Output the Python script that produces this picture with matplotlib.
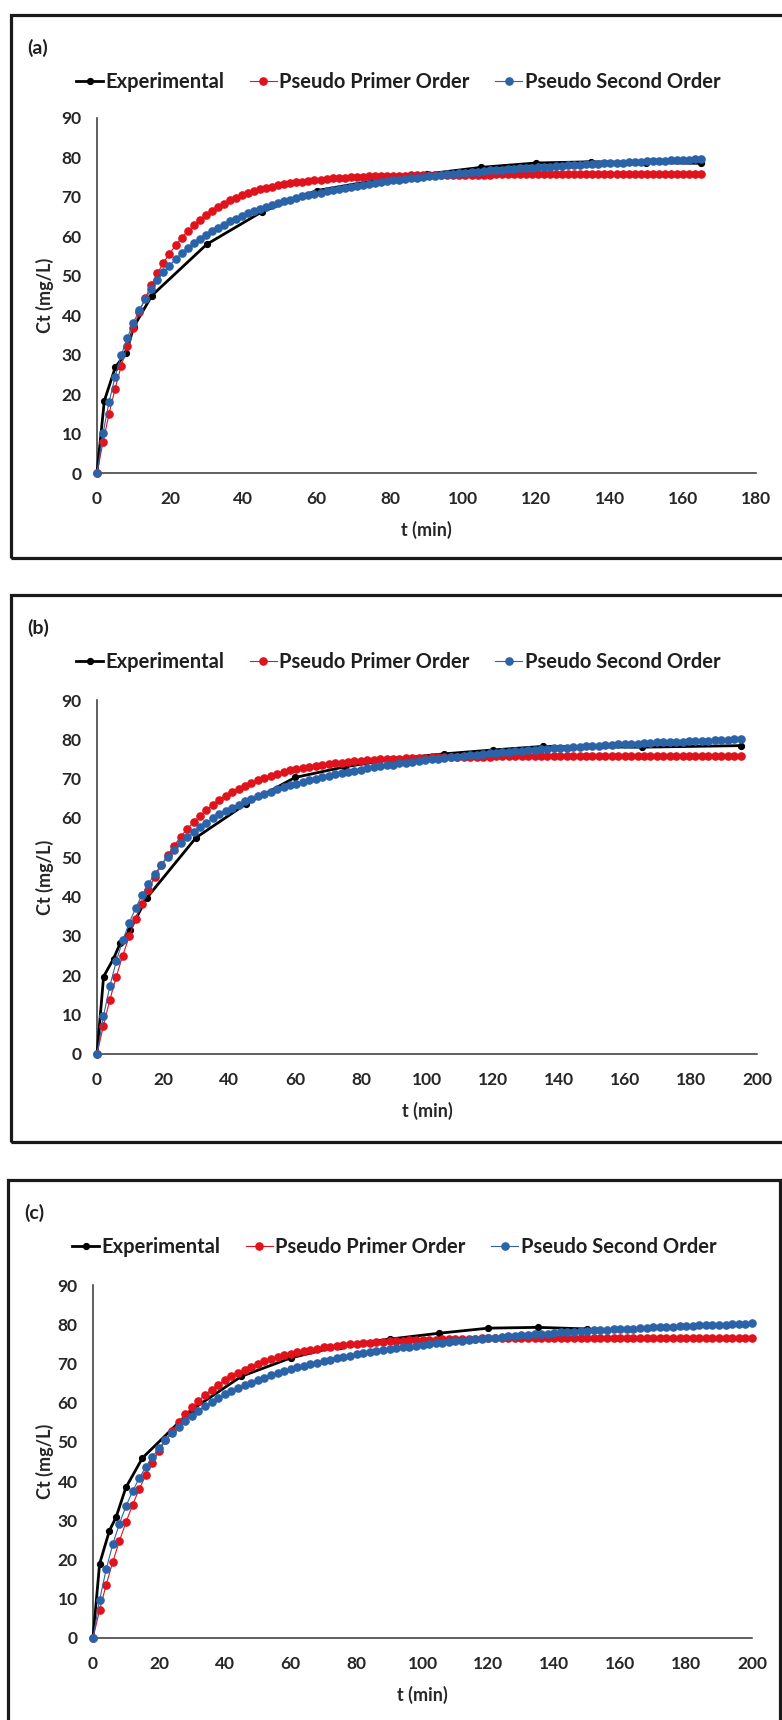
import numpy as np
import matplotlib.pyplot as plt
from matplotlib.patches import Rectangle
from matplotlib.lines import Line2D

plt.rcParams['font.family'] = ['Lato', 'DejaVu Sans']
plt.rcParams['font.weight'] = 'bold'

W, H = 782, 1720

LABELS = ["Experimental", "Pseudo Primer Order", "Pseudo Second Order"]
COLORS = ["#000000", "#E0121B", "#2B63A9"]

# ---- (a) ----
T_EXP_A = [0, 2, 5, 8, 10, 15, 30, 45, 60, 75, 90, 105, 120, 135, 150, 165]
C_EXP_A = [0, 18.3, 26.8, 30.5, 37.0, 45.0, 58.0, 66.2, 71.6, 74.0, 75.8, 77.5, 78.6, 78.9, 78.7, 78.5]
T_MOD_A = np.linspace(0, 165, 101)
PFO_A = [0, 7.9, 15.0, 21.4, 27.1, 32.1, 36.7, 40.8, 44.4, 47.7,
         50.6, 53.3, 55.6, 57.7, 59.6, 61.3, 62.8, 64.1, 65.4, 66.4,
         67.4, 68.3, 69.1, 69.8, 70.4, 70.9, 71.4, 71.9, 72.3, 72.6,
         73.0, 73.2, 73.5, 73.7, 73.9, 74.1, 74.3, 74.4, 74.6, 74.7,
         74.8, 74.9, 75.0, 75.1, 75.1, 75.2, 75.2, 75.3, 75.3, 75.4,
         75.4, 75.4, 75.5, 75.5, 75.5, 75.5, 75.5, 75.6, 75.6, 75.6,
         75.6, 75.6, 75.6, 75.6, 75.6, 75.6, 75.7, 75.7, 75.7, 75.7,
         75.7, 75.7, 75.7, 75.7, 75.7, 75.7, 75.7, 75.7, 75.7, 75.7,
         75.7, 75.7, 75.7, 75.7, 75.7, 75.7, 75.7, 75.7, 75.7, 75.7,
         75.7, 75.7, 75.7, 75.7, 75.7, 75.7, 75.7, 75.7, 75.7, 75.7,
         75.7]
PSO_A = [0, 10.1, 18.0, 24.4, 29.8, 34.2, 38.0, 41.3, 44.1, 46.6,
         48.9, 50.9, 52.6, 54.2, 55.7, 57.0, 58.2, 59.3, 60.4, 61.3,
         62.2, 63.0, 63.8, 64.5, 65.2, 65.8, 66.4, 66.9, 67.4, 67.9,
         68.4, 68.9, 69.3, 69.7, 70.1, 70.4, 70.8, 71.1, 71.4, 71.7,
         72.0, 72.3, 72.6, 72.8, 73.1, 73.3, 73.5, 73.7, 74.0, 74.2,
         74.4, 74.5, 74.7, 74.9, 75.1, 75.2, 75.4, 75.6, 75.7, 75.9,
         76.0, 76.1, 76.3, 76.4, 76.5, 76.7, 76.8, 76.9, 77.0, 77.1,
         77.2, 77.3, 77.4, 77.5, 77.6, 77.7, 77.8, 77.9, 78.0, 78.1,
         78.2, 78.3, 78.3, 78.4, 78.5, 78.6, 78.6, 78.7, 78.8, 78.9,
         78.9, 79.0, 79.1, 79.1, 79.2, 79.3, 79.3, 79.4, 79.4, 79.5,
         79.5]

# ---- (b) ----
T_EXP_B = [0, 2, 5, 7, 10, 15, 30, 45, 60, 75, 90, 105, 120, 135, 165, 195]
C_EXP_B = [0, 19.7, 24.2, 28.1, 31.5, 39.6, 55.0, 63.5, 70.3, 73.0, 75.0, 76.3, 77.3, 78.2, 78.0, 78.4]
T_MOD_B = np.linspace(0, 195, 101)
PFO_B = [0, 7.2, 13.8, 19.7, 25.0, 29.9, 34.3, 38.2, 41.8, 45.1,
         48.0, 50.6, 53.0, 55.2, 57.2, 58.9, 60.6, 62.0, 63.3, 64.5,
         65.6, 66.6, 67.4, 68.2, 69.0, 69.6, 70.2, 70.7, 71.2, 71.7,
         72.1, 72.4, 72.7, 73.0, 73.3, 73.5, 73.8, 73.9, 74.1, 74.3,
         74.4, 74.6, 74.7, 74.8, 74.9, 75.0, 75.1, 75.1, 75.2, 75.2,
         75.3, 75.3, 75.4, 75.4, 75.5, 75.5, 75.5, 75.6, 75.6, 75.6,
         75.6, 75.6, 75.7, 75.7, 75.7, 75.7, 75.7, 75.7, 75.7, 75.7,
         75.7, 75.7, 75.7, 75.8, 75.8, 75.8, 75.8, 75.8, 75.8, 75.8,
         75.8, 75.8, 75.8, 75.8, 75.8, 75.8, 75.8, 75.8, 75.8, 75.8,
         75.8, 75.8, 75.8, 75.8, 75.8, 75.8, 75.8, 75.8, 75.8, 75.8,
         75.8]
PSO_B = [0, 9.6, 17.3, 23.6, 28.9, 33.3, 37.1, 40.4, 43.3, 45.8,
         48.1, 50.1, 51.9, 53.6, 55.1, 56.4, 57.7, 58.8, 59.9, 60.9,
         61.8, 62.6, 63.4, 64.2, 64.9, 65.5, 66.1, 66.7, 67.3, 67.8,
         68.3, 68.7, 69.2, 69.6, 70.0, 70.4, 70.7, 71.1, 71.4, 71.7,
         72.0, 72.3, 72.6, 72.9, 73.1, 73.4, 73.6, 73.9, 74.1, 74.3,
         74.5, 74.7, 74.9, 75.1, 75.3, 75.5, 75.6, 75.8, 76.0, 76.1,
         76.3, 76.4, 76.6, 76.7, 76.8, 77.0, 77.1, 77.2, 77.3, 77.5,
         77.6, 77.7, 77.8, 77.9, 78.0, 78.1, 78.2, 78.3, 78.4, 78.5,
         78.6, 78.7, 78.7, 78.8, 78.9, 79.0, 79.1, 79.2, 79.2, 79.3,
         79.4, 79.4, 79.5, 79.6, 79.6, 79.7, 79.8, 79.8, 79.9, 80.0,
         80.0]

# ---- (c) ----
T_EXP_C = [0, 2, 5, 7, 10, 15, 30, 45, 60, 75, 90, 105, 120, 135, 150]
C_EXP_C = [0, 18.9, 27.4, 30.8, 38.4, 45.9, 58.2, 66.7, 71.4, 74.5, 76.2, 77.7, 79.0, 79.2, 78.8]
T_MOD_C = np.linspace(0, 200, 101)
PFO_C = [0, 7.1, 13.6, 19.4, 24.7, 29.5, 33.9, 37.9, 41.5, 44.7,
         47.7, 50.4, 52.8, 55.0, 57.0, 58.8, 60.5, 62.0, 63.3, 64.6,
         65.7, 66.7, 67.6, 68.4, 69.2, 69.9, 70.5, 71.1, 71.6, 72.1,
         72.5, 72.9, 73.2, 73.5, 73.8, 74.1, 74.3, 74.5, 74.7, 74.9,
         75.0, 75.2, 75.3, 75.4, 75.5, 75.6, 75.7, 75.8, 75.9, 76.0,
         76.0, 76.1, 76.1, 76.2, 76.2, 76.2, 76.3, 76.3, 76.3, 76.4,
         76.4, 76.4, 76.4, 76.4, 76.4, 76.5, 76.5, 76.5, 76.5, 76.5,
         76.5, 76.5, 76.5, 76.5, 76.5, 76.6, 76.6, 76.6, 76.6, 76.6,
         76.6, 76.6, 76.6, 76.6, 76.6, 76.6, 76.6, 76.6, 76.6, 76.6,
         76.6, 76.6, 76.6, 76.6, 76.6, 76.6, 76.6, 76.6, 76.6, 76.6,
         76.6]
PSO_C = [0, 9.7, 17.5, 23.9, 29.1, 33.6, 37.4, 40.7, 43.6, 46.1,
         48.4, 50.4, 52.2, 53.9, 55.4, 56.7, 58.0, 59.1, 60.2, 61.1,
         62.1, 62.9, 63.7, 64.4, 65.1, 65.8, 66.4, 67.0, 67.5, 68.0,
         68.5, 69.0, 69.4, 69.8, 70.2, 70.6, 71.0, 71.3, 71.6, 72.0,
         72.3, 72.6, 72.8, 73.1, 73.4, 73.6, 73.9, 74.1, 74.3, 74.5,
         74.7, 74.9, 75.1, 75.3, 75.5, 75.7, 75.8, 76.0, 76.2, 76.3,
         76.5, 76.6, 76.8, 76.9, 77.0, 77.2, 77.3, 77.4, 77.5, 77.6,
         77.8, 77.9, 78.0, 78.1, 78.2, 78.3, 78.4, 78.5, 78.6, 78.7,
         78.7, 78.8, 78.9, 79.0, 79.1, 79.2, 79.2, 79.3, 79.4, 79.5,
         79.5, 79.6, 79.7, 79.7, 79.8, 79.9, 79.9, 80.0, 80.1, 80.1,
         80.2]


# pixel helpers (origin at the top left of the image)
def fx(x):
	return x / W

def fy(y):
	return 1 - y / H


# One boxed panel: frame, tag, legend and the axes with the three series
def DrawPanel(fig, frame, axbox, tag, legend_x, legend_y, xmax, exp, mod):
	x0, y0, x1, y1 = frame
	fig.add_artist(Rectangle((fx(x0), fy(y1)), (x1 - x0) / W, (y1 - y0) / H,
	                         transform=fig.transFigure, fill=False, lw=2.3, ec="#1a1a1a"))
	fig.text(fx(x0 + 16), fy(y0 + 33), tag, fontsize=14, fontweight="bold", va="center", ha="left",
	         color="#1f1f1f")

	l, t, r, b = axbox
	ax = fig.add_axes([fx(l), fy(b), (r - l) / W, (b - t) / H])
	t_exp, c_exp = exp
	t_mod, pfo, pso = mod
	ax.plot(t_exp, c_exp, color=COLORS[0], lw=2.0, marker="o", ms=4.2, clip_on=False, zorder=3)
	ax.plot(t_mod, pfo, color=COLORS[1], lw=0.8, marker="o", ms=5.2, clip_on=False, zorder=4)
	ax.plot(t_mod, pso, color=COLORS[2], lw=0.8, marker="o", ms=5.2, clip_on=False, zorder=5)

	ax.set_xlim(0, xmax)
	ax.set_ylim(0, 90)
	ax.set_xticks(np.arange(0, xmax + 1, 20))
	ax.set_yticks(np.arange(0, 91, 10))
	for s in ["top", "right"]:
		ax.spines[s].set_visible(False)
	for s in ["left", "bottom"]:
		ax.spines[s].set_color("#333333")
		ax.spines[s].set_linewidth(1.1)
	ax.tick_params(axis="both", length=0, labelsize=12.5)
	ax.tick_params(axis="x", pad=13)
	ax.tick_params(axis="y", pad=11)
	for lab in ax.get_xticklabels() + ax.get_yticklabels():
		lab.set_fontweight("bold")
		lab.set_color("#262626")

	fig.text(fx((l + r) / 2), fy(b + 57), "t (min)", fontsize=13, fontweight="bold",
	         ha="center", va="center", color="#262626")
	fig.text(fx(45), fy((t + b) / 2), "Ct (mg/L)", fontsize=13, fontweight="bold",
	         ha="center", va="center", rotation=90, color="#262626")

	handles = [Line2D([], [], color=COLORS[0], lw=2.0, marker="o", ms=4.2),
	           Line2D([], [], color=COLORS[1], lw=0.8, marker="o", ms=5.2),
	           Line2D([], [], color=COLORS[2], lw=0.8, marker="o", ms=5.2)]
	leg = fig.legend(handles, LABELS, loc="center left", bbox_to_anchor=(fx(legend_x), fy(legend_y)),
	                 ncol=3, frameon=False, fontsize=14.5, handlelength=1.35, handletextpad=0.12,
	                 columnspacing=1.25, borderpad=0, borderaxespad=0)
	for txt in leg.get_texts():
		txt.set_color("#1f1f1f")
	return ax


if __name__ == '__main__':
	fig = plt.figure(figsize=(W / 100, H / 100), dpi=100)
	DrawPanel(fig, (11, 15, 800, 558), (97, 118, 756, 473), "(a)", 76, 82, 180,
	          (T_EXP_A, C_EXP_A), (T_MOD_A, PFO_A, PSO_A))
	DrawPanel(fig, (11, 595, 800, 1142), (97, 700, 757, 1054), "(b)", 76, 662, 200,
	          (T_EXP_B, C_EXP_B), (T_MOD_B, PFO_B, PSO_B))
	DrawPanel(fig, (8, 1180, 780, 1740), (93, 1285, 752, 1638), "(c)", 72, 1247, 200,
	          (T_EXP_C, C_EXP_C), (T_MOD_C, PFO_C, PSO_C))
	fig.savefig("out.png", dpi=100)
